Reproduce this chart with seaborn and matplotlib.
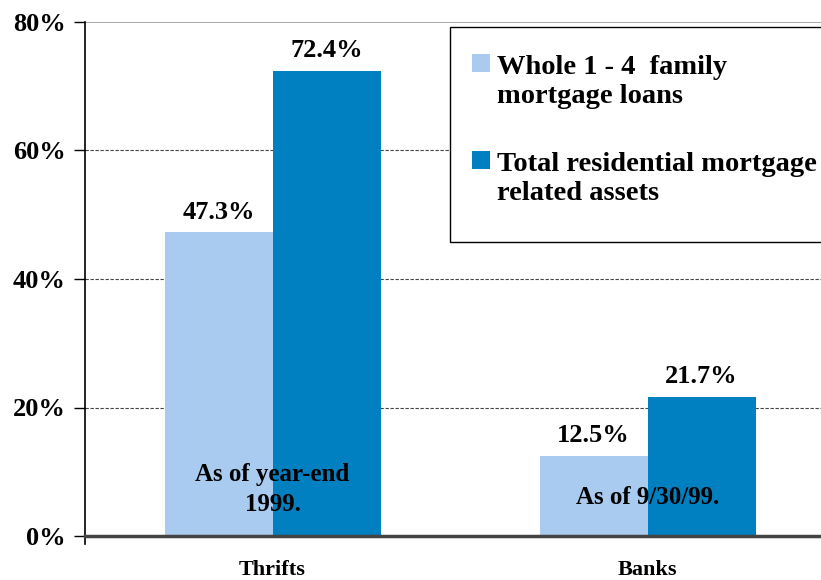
import matplotlib
matplotlib.use("Agg")
import matplotlib.pyplot as plt
import seaborn as sns
import pandas as pd
from matplotlib.patches import Rectangle
from matplotlib.ticker import FixedLocator

categories = ["Thrifts", "Banks"]
series_names = ["Whole 1 - 4  family\nmortgage loans",
                "Total residential mortgage\nrelated assets"]
whole_loans = [47.3, 12.5]
total_assets = [72.4, 21.7]
yticks = [0, 20, 40, 60, 80]
ytick_labels = ["0%", "20%", "40%", "60%", "80%"]
notes = ["As of year-end\n1999.", "As of 9/30/99."]

colors = ["#A9CBEF", "#0080C0"]

sns.set_theme(style="white")
plt.rcParams["font.family"] = ["Liberation Serif", "DejaVu Serif"]
plt.rcParams["font.weight"] = "bold"
plt.rcParams["text.color"] = "black"
plt.rcParams["xtick.color"] = "black"
plt.rcParams["ytick.color"] = "black"
plt.rcParams["xtick.labelcolor"] = "black"
plt.rcParams["ytick.labelcolor"] = "black"

df = pd.DataFrame({
    "category": categories * 2,
    "series": [series_names[0]] * 2 + [series_names[1]] * 2,
    "value": whole_loans + total_assets,
})

W, H = 821, 580
fig = plt.figure(figsize=(W / 100, H / 100), dpi=100)
ax = fig.add_axes([85 / W, (H - 536) / H, (835 - 85) / W, (536 - 22) / H])

sns.barplot(data=df, x="category", y="value", hue="series", order=categories,
            hue_order=series_names, palette=colors, width=0.576, saturation=1,
            edgecolor="none", linewidth=0, ax=ax, legend=False)

ax.set_xlim(-0.5, 1.5)
ax.set_ylim(0, 80)
ax.set_xlabel("")
ax.set_ylabel("")

# gridlines
for y in [20, 40, 60]:
    ax.axhline(y, color="#444444", lw=0.8, ls=(0, (3, 1.5)), zorder=0)
ax.axhline(80, color="#999999", lw=1.2, zorder=0)

ax.set_yticks(yticks)
ax.set_yticklabels(ytick_labels, fontsize=19, fontweight="bold", color="black")
ax.tick_params(axis="y", length=8, width=1, color="black", direction="out", pad=6, left=True)

ax.set_xticks([0, 1])
ax.set_xticklabels(categories, fontsize=16, fontweight="bold", color="black")
ax.tick_params(axis="x", length=0, pad=17)
ax.xaxis.set_minor_locator(FixedLocator([0.5]))
ax.tick_params(axis="x", which="minor", length=15, width=1, direction="inout", color="black")

for s in ["top", "right"]:
    ax.spines[s].set_visible(False)
ax.spines["left"].set_color("black")
ax.spines["left"].set_linewidth(1.2)
ax.spines["left"].set_bounds(-1.2, 80)
ax.spines["bottom"].set_color("#444444")
ax.spines["bottom"].set_linewidth(2.5)

# value labels
for cont in ax.containers:
    ax.bar_label(cont, labels=[f"{v.get_height():.1f}%" for v in cont],
                 padding=6, fontsize=19, fontweight="bold", color="black")

# notes
ax.text(0, 7.2, notes[0], ha="center", va="center", fontsize=18,
        fontweight="bold", linespacing=1.4, color="black")
ax.text(1, 6.0, notes[1], ha="center", va="center", fontsize=18,
        fontweight="bold", color="black")

# manual legend (handles aligned with first line like the reference)
def fx(px):
    return px / W

def fy(py):
    return 1 - py / H

frame = Rectangle((fx(450), fy(242)), fx(400), (242 - 27) / H, transform=fig.transFigure,
                  facecolor="white", edgecolor="black", lw=1.0, zorder=5)
fig.patches.append(frame)
leg_rows = [(54, series_names[0], colors[0]), (151, series_names[1], colors[1])]
for top, label, col in leg_rows:
    fig.patches.append(Rectangle((fx(472), fy(top + 18)), fx(18), 18 / H,
                                 transform=fig.transFigure, facecolor=col,
                                 edgecolor="none", zorder=6))
    fig.text(fx(497), fy(top + 1), label, ha="left", va="top", fontsize=20.5,
             fontweight="bold", linespacing=1.2, color="black", zorder=7)

fig.savefig("out.png", dpi=100, facecolor="white")
